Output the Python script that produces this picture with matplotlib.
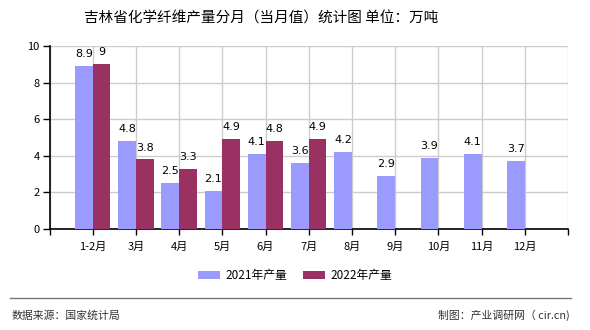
import numpy as np
import matplotlib
matplotlib.use('Agg')
import matplotlib.pyplot as plt
from matplotlib.lines import Line2D

plt.rcParams['font.family'] = ['Noto Sans CJK SC', 'DejaVu Sans']

months = ['1-2月', '3月', '4月', '5月', '6月', '7月', '8月', '9月', '10月', '11月', '12月']
v2021 = [8.9, 4.8, 2.5, 2.1, 4.1, 3.6, 4.2, 2.9, 3.9, 4.1, 3.7]
v2022 = [9, 3.8, 3.3, 4.9, 4.8, 4.9]
c2021 = '#9b9bff'
c2022 = '#9a3163'

fig = plt.figure(figsize=(5.9, 3.3), dpi=100)
ax = fig.add_axes([0.0839, 0.306, 0.8788, 0.5546])

# groups sit on integer positions 1..11, axis runs from 0 to 12
x = np.arange(1, len(months) + 1)
w = 0.41
ax.bar(x[:len(v2021)] - w / 2, v2021, w, color=c2021, label='2021年产量', zorder=3)
ax.bar(x[:len(v2022)] + w / 2, v2022, w, color=c2022, label='2022年产量', zorder=3)

for i, v in enumerate(v2021):
    ax.annotate('%g' % v, (x[i] - w / 2, v), xytext=(0, 5), textcoords='offset points',
                ha='center', va='bottom', fontsize=8, family='DejaVu Sans', zorder=4)
for i, v in enumerate(v2022):
    ax.annotate('%g' % v, (x[i] + w / 2, v), xytext=(0, 5), textcoords='offset points',
                ha='center', va='bottom', fontsize=8, family='DejaVu Sans', zorder=4)

ax.set_xlim(0, len(months) + 1)
ax.set_ylim(0, 10)
ax.set_yticks([0, 2, 4, 6, 8, 10])
ax.set_xticks(np.arange(0, len(months) + 2))
ax.set_xticklabels([''] + months + [''], fontsize=8)
ax.tick_params(axis='x', length=4, direction='out', width=1, pad=5)
ax.tick_params(axis='y', length=5, labelsize=8, width=1, pad=2)
ax.grid(True, color='#cccccc', lw=1, zorder=0)
for s in ['top', 'right']:
    ax.spines[s].set_visible(False)
ax.spines['left'].set_linewidth(1.2)
ax.spines['bottom'].set_linewidth(1.2)

fig.text(0.443, 0.945, '吉林省化学纤维产量分月（当月值）统计图 单位：万吨',
         ha='center', va='center', fontsize=10.5)

fig.legend(loc='center', bbox_to_anchor=(0.5, 0.165), ncol=2, frameon=False,
           fontsize=8.5, handlelength=1.86, handleheight=0.7, handletextpad=0.45,
           columnspacing=1.35)

fig.add_artist(Line2D([0.017, 0.968], [0.097, 0.097], color='#777777', lw=1))
fig.text(0.019, 0.045, '数据来源：国家统计局', fontsize=7.8, color='#333333', va='center')
fig.text(0.966, 0.045, '制图：产业调研网（ cir.cn)', fontsize=7.8, color='#333333',
         va='center', ha='right')

fig.savefig('out.png', dpi=100)
